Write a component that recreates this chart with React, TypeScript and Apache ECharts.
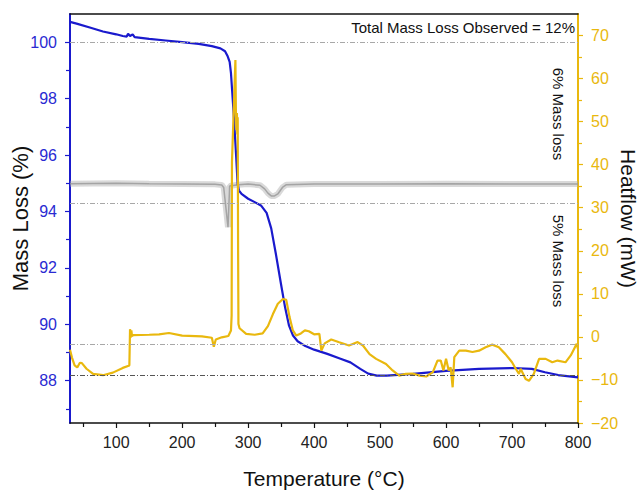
import React, { useEffect, useRef } from "react";
import * as echarts from "echarts";

// ---- Data ----
const tgaT = [30, 40, 60, 80, 100, 110, 116, 118, 121, 125, 128, 150, 175, 200, 225, 245, 258, 265, 269, 272, 274, 276, 278, 280, 282, 284, 286, 290, 300, 310, 320, 328, 335, 342, 350, 356, 362, 368, 375, 385, 400, 420, 440, 455, 470, 482, 495, 510, 550, 600, 650, 700, 730, 750, 770, 800];
const tgaV = [100.72, 100.66, 100.52, 100.38, 100.28, 100.22, 100.2, 100.3, 100.22, 100.28, 100.18, 100.12, 100.06, 100.0, 99.94, 99.86, 99.78, 99.68, 99.5, 99.3, 98.9, 98.2, 97.5, 96.7, 95.9, 95.0, 94.75, 94.62, 94.45, 94.33, 94.2, 93.95, 93.4, 92.5, 91.4, 90.6, 89.95, 89.6, 89.4, 89.25, 89.1, 88.95, 88.78, 88.65, 88.42, 88.25, 88.18, 88.18, 88.24, 88.35, 88.42, 88.45, 88.42, 88.3, 88.2, 88.12];

const dscT = [30, 33, 37, 41, 45, 48, 55, 65, 80, 95, 110, 119, 120, 121, 122, 123, 124, 126, 150, 165, 180, 200, 230, 245, 248, 251, 260, 270, 274, 275, 275.5, 278, 280.7, 281.5, 282.3, 283, 283.6, 284.2, 284.8, 285.3, 287, 297, 310, 322, 330, 337.6, 345, 352.7, 357.8, 362.8, 367.8, 373, 380, 386, 392, 400, 408, 411, 416, 426, 438, 453, 466, 474, 484, 494, 509, 519, 529, 539, 549, 560, 570, 580, 587, 592, 596, 600, 604, 607, 610, 612.5, 620, 630, 640, 650, 660, 670, 680, 690, 700, 705.6, 710.6, 713, 720.6, 725.7, 733, 741, 751, 761, 769, 781, 789, 794, 798, 800];
const dscV = [-3.0, -4.8, -6.6, -7.1, -6.0, -6.1, -7.4, -8.6, -8.9, -8.3, -7.2, -6.7, -6.6, 1.8, -0.2, 1.5, 0.2, 0.4, 0.5, 0.6, 0.9, 0.3, 0.1, -0.2, -2.3, -0.6, -0.1, 0.2, 1.5, 5, 40.6, 52, 64.3, 52, 48, 52, 47, 51, 20, 3, 2, 0.7, 0.5, 0.8, 2.5, 5.3, 7.7, 8.8, 8.6, 4.6, 1.5, 0.3, 0.8, 1.5, 1.3, 0.6, 0.7, -3.2, -1.5, -0.6, -1.25, -2.0, -1.2, -2.0, -4.0, -5.1, -6.3, -7.8, -9.0, -8.6, -8.5, -9.0, -9.2, -8.2, -5.5, -5.5, -7.8, -5.1, -7.8, -7.1, -11.7, -4.7, -3.2, -3.2, -3.5, -3.2, -2.4, -1.8, -2.4, -4.0, -5.9, -7.4, -8.6, -7.4, -9.8, -10.2, -8.6, -5.1, -5.1, -5.9, -5.5, -5.9, -4.3, -2.8, -1.6, -2.8];

const dtgT = [30, 100, 150, 200, 250, 260, 263, 266, 269.5, 272, 285, 300, 318, 325, 330, 335, 340, 345, 352, 358, 400, 500, 600, 700, 800];
const dtgV = [94.98, 95.0, 94.98, 94.97, 94.96, 94.94, 94.85, 94.2, 93.44, 94.9, 94.95, 94.97, 94.93, 94.8, 94.65, 94.55, 94.55, 94.62, 94.85, 94.95, 94.97, 94.97, 94.98, 94.97, 94.97];

const refLines = [100, 94.3, 89.3, 88.2];

const xMajorTicks = [100, 200, 300, 400, 500, 600, 700, 800];
const xMinorTicks = [50, 150, 250, 350, 450, 550, 650, 750];
const leftLabels = [88, 90, 92, 94, 96, 98, 100];
const leftMinor = [87, 89, 91, 93, 95, 97, 99];
const rightLabels = [-20, -10, 0, 10, 20, 30, 40, 50, 60, 70];
const rightMinor = [-15, -5, 5, 15, 25, 35, 45, 55, 65];

const FONT = "'Liberation Sans', Arial, sans-serif";
const BLUE = "#1a1acd";
const BLUE_TXT = "#2a2ad2";
const YEL = "#e9b80e";

const zip = (a: number[], b: number[]) => a.map((v, i) => [v, b[i]]);

export default function App() {
  const ref = useRef<HTMLDivElement>(null);
  useEffect(() => {
    if (!ref.current) return;
    const chart = echarts.init(ref.current, null, { renderer: "svg" });
    const gridBox = { left: 70, right: 62, top: 14, bottom: 69, outerBoundsMode: "none" } as any;
    chart.setOption({
      animation: false,
      backgroundColor: "#fff",
      textStyle: { fontFamily: FONT },
      grid: [gridBox, { ...gridBox }],
      xAxis: [
        {
          type: "value", gridIndex: 0, min: 30, max: 800, position: "bottom",
          axisLine: { show: true, onZero: false, lineStyle: { color: "#111", width: 1.5 } },
          axisTick: { show: true, length: 5, customValues: xMajorTicks, lineStyle: { color: "#111", width: 1.2 } },
          axisLabel: { customValues: xMajorTicks, fontSize: 16, color: "#222", margin: 11, fontFamily: FONT },
          splitLine: { show: false },
          name: "Temperature (°C)", nameLocation: "middle", nameGap: 45, nameMoveOverlap: false,
          nameTextStyle: { fontSize: 21, color: "#111", fontFamily: FONT },
        },
        {
          type: "value", gridIndex: 0, min: 30, max: 800, position: "top",
          axisLine: { show: true, onZero: false, lineStyle: { color: "#111", width: 1.5 } },
          axisTick: { show: false }, axisLabel: { show: false }, splitLine: { show: false },
        },
        {
          type: "value", gridIndex: 1, min: 30, max: 800, position: "bottom",
          axisLine: { show: false, onZero: false },
          axisTick: { show: true, length: 4, customValues: xMinorTicks, lineStyle: { color: "#111", width: 1.2 } },
          axisLabel: { show: false }, splitLine: { show: false },
        },
      ],
      yAxis: [
        {
          type: "value", gridIndex: 0, min: 86.5, max: 101, position: "left",
          axisLine: { show: true, onZero: false, lineStyle: { color: BLUE, width: 2 } },
          axisTick: { show: true, length: 5, customValues: leftLabels, lineStyle: { color: BLUE, width: 1.2 } },
          axisLabel: { customValues: leftLabels, fontSize: 16, color: BLUE_TXT, margin: 13, fontFamily: FONT },
          splitLine: { show: false },
          name: "Mass Loss (%)", nameLocation: "middle", nameGap: 39, nameMoveOverlap: false,
          nameTextStyle: { fontSize: 22, color: "#111", fontFamily: FONT },
        },
        {
          type: "value", gridIndex: 0, min: -20, max: 75, position: "right",
          axisLine: { show: true, onZero: false, lineStyle: { color: YEL, width: 2 } },
          axisTick: { show: true, length: 5, customValues: rightLabels, lineStyle: { color: YEL, width: 1.2 } },
          axisLabel: {
            customValues: rightLabels, fontSize: 16, color: YEL, margin: 13, fontFamily: FONT,
            formatter: (v: number) => String(v).replace("-", "\u2212"),
          },
          splitLine: { show: false },
          name: "Heatflow (mW)", nameLocation: "middle", nameGap: 40, nameRotate: -90, nameMoveOverlap: false,
          nameTextStyle: { fontSize: 21, color: "#111", fontFamily: FONT },
        },
        {
          type: "value", gridIndex: 1, min: 86.5, max: 101, position: "left",
          axisLine: { show: false, onZero: false },
          axisTick: { show: true, length: 4, customValues: leftMinor, lineStyle: { color: BLUE, width: 1.2 } },
          axisLabel: { show: false }, splitLine: { show: false },
        },
        {
          type: "value", gridIndex: 1, min: -20, max: 75, position: "right",
          axisLine: { show: false, onZero: false },
          axisTick: { show: true, length: 4, customValues: rightMinor, lineStyle: { color: YEL, width: 1.2 } },
          axisLabel: { show: false }, splitLine: { show: false },
        },
      ],
      series: [
        {
          type: "line", name: "DTG band", xAxisIndex: 0, yAxisIndex: 0, data: zip(dtgT, dtgV),
          showSymbol: false, symbol: "none", silent: true,
          lineStyle: { color: "rgba(170,170,170,0.45)", width: 6 },
        },
        {
          type: "line", name: "DTG", xAxisIndex: 0, yAxisIndex: 0, data: zip(dtgT, dtgV),
          showSymbol: false, symbol: "none", silent: true,
          lineStyle: { color: "rgba(150,150,150,0.8)", width: 1.5 },
        },
        {
          type: "line", name: "TGA", xAxisIndex: 0, yAxisIndex: 0, data: zip(tgaT, tgaV),
          showSymbol: false, symbol: "none",
          lineStyle: { color: BLUE, width: 2.2 },
          markLine: {
            silent: true, symbol: ["none", "none"], label: { show: false },
            lineStyle: { type: [5, 2, 1, 2], width: 1, color: "#a8a8a8" },
            data: refLines.map((v, i) => ({
              yAxis: v,
              lineStyle: { color: i === refLines.length - 1 ? "#555" : "#a8a8a8", type: [5, 2, 1, 2], width: 1 },
            })),
          },
        },
        {
          type: "line", name: "DSC", xAxisIndex: 0, yAxisIndex: 1, data: zip(dscT, dscV),
          showSymbol: false, symbol: "none",
          lineStyle: { color: YEL, width: 2.2 },
        },
      ],
      graphic: [
        {
          type: "text", x: 575, y: 27,
          style: { text: "Total Mass Loss Observed = 12%", fontSize: 15, fill: "#111", fontFamily: FONT, align: "right", verticalAlign: "middle" },
        },
        {
          type: "text", x: 558, y: 114, rotation: -Math.PI / 2,
          style: { text: "6% Mass loss", fontSize: 15, fill: "#111", fontFamily: FONT, align: "center", verticalAlign: "middle" },
        },
        {
          type: "text", x: 558, y: 261, rotation: -Math.PI / 2,
          style: { text: "5% Mass loss", fontSize: 15, fill: "#111", fontFamily: FONT, align: "center", verticalAlign: "middle" },
        },
      ],
    });
    return () => chart.dispose();
  }, []);
  return <div ref={ref} style={{ position: "fixed", left: 0, top: 0, width: 640, height: 492 }} />;
}
